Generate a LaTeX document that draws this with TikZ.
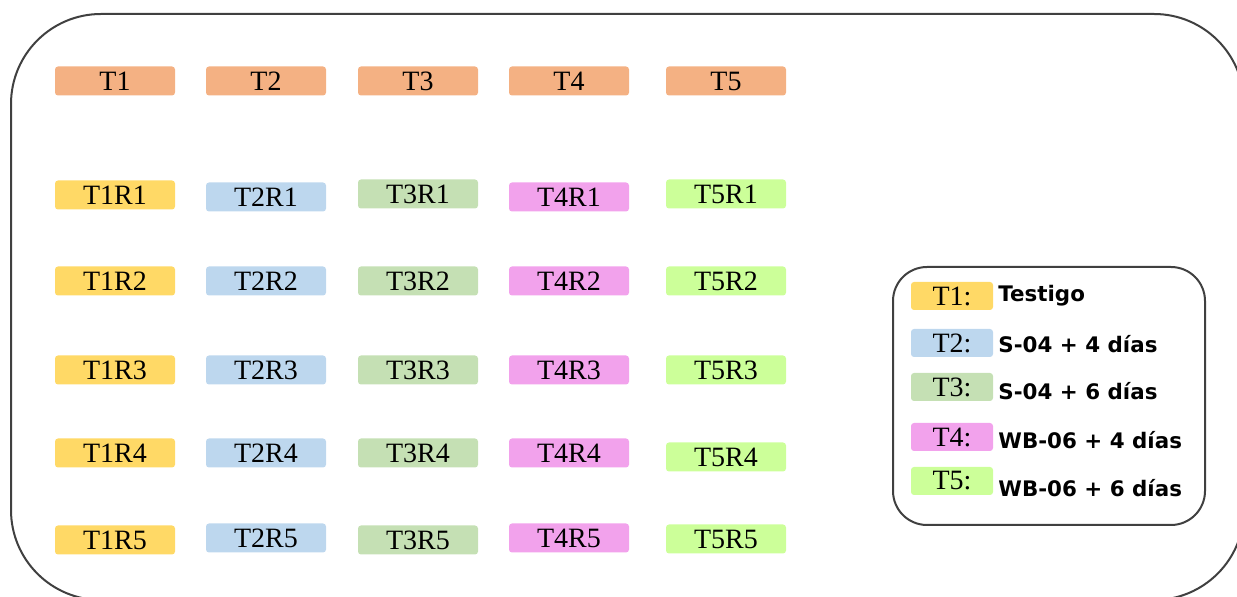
\documentclass[tikz,border=0pt]{standalone}
\usepackage{fontspec}
\setmainfont{Liberation Serif}
\newfontfamily\legendfont{DejaVu Sans}
\definecolor{hdrorange}{HTML}{F4B183}
\definecolor{tyellow}{HTML}{FFD966}
\definecolor{tblue}{HTML}{BDD7EE}
\definecolor{tgreen}{HTML}{C5E0B4}
\definecolor{tpink}{HTML}{F2A2EC}
\definecolor{tlime}{HTML}{CCFF99}
\definecolor{frame}{HTML}{404040}
\tikzstyle{cell}=[rounded corners=1.5pt,minimum width=60pt,minimum height=14.5pt,inner sep=0pt,font=\fontsize{14}{16}\selectfont]
\tikzstyle{swatch}=[cell,minimum width=41pt,minimum height=14pt]
\tikzstyle{desc}=[anchor=west,inner sep=0pt,font=\legendfont\bfseries\fontsize{10.7}{13}\selectfont]
\tikzstyle{panel}=[draw=frame,line width=1pt]

\begin{document}
\begin{tikzpicture}[x=0.5pt,y=-0.5pt]
\useasboundingbox (0,0) rectangle (1237,597);
\draw[panel, rounded corners=45pt] (11,14) rectangle (1244,600);
% headers
\node[cell, fill=hdrorange] at (115, 81) (t1) {T1};
\node[cell, fill=hdrorange] at (266, 81) (t2) {T2};
\node[cell, fill=hdrorange] at (418, 81) (t3) {T3};
\node[cell, fill=hdrorange] at (569, 81) (t4) {T4};
\node[cell, fill=hdrorange] at (726, 81) (t5) {T5};
% R1
\node[cell, fill=tyellow] at (115, 195) (t1r1) {T1R1};
\node[cell, fill=tblue] at (266, 197) (t2r1) {T2R1};
\node[cell, fill=tgreen] at (418, 194) (t3r1) {T3R1};
\node[cell, fill=tpink] at (569, 197) (t4r1) {T4R1};
\node[cell, fill=tlime] at (726, 194) (t5r1) {T5R1};
% R2
\node[cell, fill=tyellow] at (115, 281) (t1r2) {T1R2};
\node[cell, fill=tblue] at (266, 281) (t2r2) {T2R2};
\node[cell, fill=tgreen] at (418, 281) (t3r2) {T3R2};
\node[cell, fill=tpink] at (569, 281) (t4r2) {T4R2};
\node[cell, fill=tlime] at (726, 281) (t5r2) {T5R2};
% R3
\node[cell, fill=tyellow] at (115, 370) (t1r3) {T1R3};
\node[cell, fill=tblue] at (266, 370) (t2r3) {T2R3};
\node[cell, fill=tgreen] at (418, 370) (t3r3) {T3R3};
\node[cell, fill=tpink] at (569, 370) (t4r3) {T4R3};
\node[cell, fill=tlime] at (726, 370) (t5r3) {T5R3};
% R4
\node[cell, fill=tyellow] at (115, 453) (t1r4) {T1R4};
\node[cell, fill=tblue] at (266, 453) (t2r4) {T2R4};
\node[cell, fill=tgreen] at (418, 453) (t3r4) {T3R4};
\node[cell, fill=tpink] at (569, 453) (t4r4) {T4R4};
\node[cell, fill=tlime] at (726, 457) (t5r4) {T5R4};
% R5
\node[cell, fill=tyellow] at (115, 540) (t1r5) {T1R5};
\node[cell, fill=tblue] at (266, 538) (t2r5) {T2R5};
\node[cell, fill=tgreen] at (418, 540) (t3r5) {T3R5};
\node[cell, fill=tpink] at (569, 538) (t4r5) {T4R5};
\node[cell, fill=tlime] at (726, 539) (t5r5) {T5R5};
% legend
\draw[panel, rounded corners=17pt] (893,267) rectangle (1205,525);
\node[swatch, fill=tyellow] at (952, 296) (k1) {T1:};
\node[swatch, fill=tblue] at (952, 343) (k2) {T2:};
\node[swatch, fill=tgreen] at (952, 387) (k3) {T3:};
\node[swatch, fill=tpink] at (952, 437) (k4) {T4:};
\node[swatch, fill=tlime] at (952, 481) (k5) {T5:};
\node[desc] at (998, 296) (d1) {Testigo};
\node[desc] at (998, 344) (d2) {S-04 + 4 días};
\node[desc] at (998, 391) (d3) {S-04 + 6 días};
\node[desc] at (998, 440) (d4) {WB-06 + 4 días};
\node[desc] at (998, 488) (d5) {WB-06 + 6 días};
\end{tikzpicture}
\end{document}
